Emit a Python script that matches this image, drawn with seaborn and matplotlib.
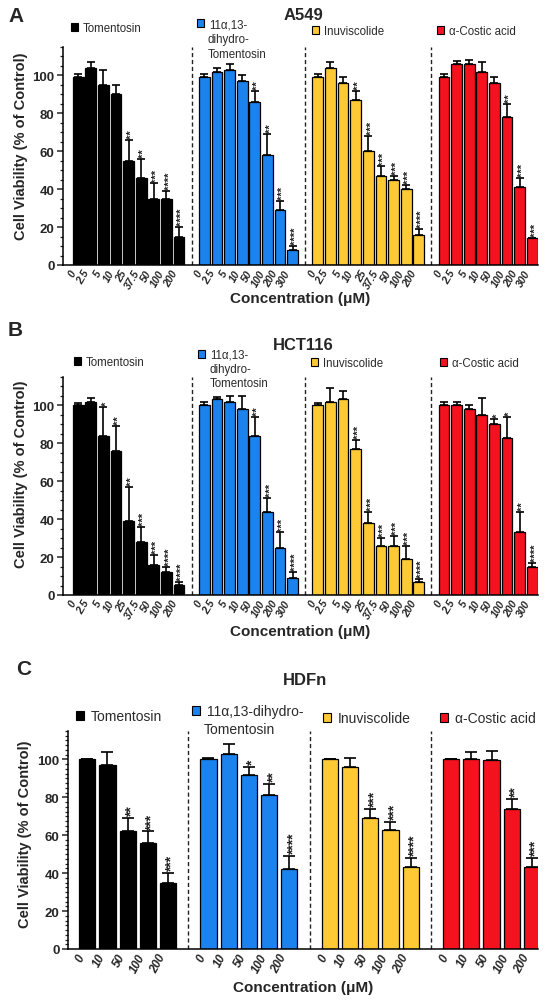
import numpy as np
import pandas as pd
import matplotlib
matplotlib.use("Agg")
import matplotlib.pyplot as plt
import seaborn as sns
from matplotlib.patches import Patch
from matplotlib.ticker import MultipleLocator
from matplotlib.transforms import offset_copy

# ---------------- data ----------------
COMPOUNDS = ["Tomentosin", "11α,13-dihydro-Tomentosin", "Inuviscolide", "α-Costic acid"]
COLORS = ["#000000", "#1b82ee", "#fdc935", "#f4121e"]

# Panel A : A549
A_tom_conc = ["0", "2.5", "5", "10", "25", "37.5", "50", "100", "200"]
A_tom_val = [99, 104, 95, 90, 55, 46, 35, 35, 15]
A_tom_err = [2, 3, 8, 5, 11, 10, 8, 4, 5]
A_tom_sig = ["", "", "", "", "**", "**", "***", "****", "****"]

A_dht_conc = ["0", "2.5", "5", "10", "50", "100", "200", "300"]
A_dht_val = [99, 102, 103, 97, 86, 58, 29, 8]
A_dht_err = [2, 2, 3, 3, 6, 11, 5, 2]
A_dht_sig = ["", "", "", "", "**", "**", "***", "****"]

A_inu_conc = ["0", "2.5", "5", "10", "25", "37.5", "50", "100", "200"]
A_inu_val = [99, 104, 96, 87, 60, 47, 45, 40, 16]
A_inu_err = [2, 3, 3, 5, 8, 5, 2, 2, 3]
A_inu_sig = ["", "", "", "**", "***", "***", "***", "***", "****"]

A_cos_conc = ["0", "2.5", "5", "10", "50", "100", "200", "300"]
A_cos_val = [99, 106, 106, 102, 96, 78, 41, 14]
A_cos_err = [1.5, 1.5, 2, 5, 3, 7, 5, 0.5]
A_cos_sig = ["", "", "", "", "", "**", "***", "***"]

# Panel B : HCT116
B_tom_conc = ["0", "2.5", "5", "10", "25", "37.5", "50", "100", "200"]
B_tom_val = [100, 102, 84, 76, 39, 28, 16, 12, 5.5]
B_tom_err = [1.5, 2, 15, 13, 18, 8, 5, 3, 1.5]
B_tom_sig = ["", "", "*", "**", "**", "***", "***", "****", "****"]

B_dht_conc = ["0", "2.5", "5", "10", "50", "100", "200", "300"]
B_dht_val = [100, 103.5, 102, 98, 84, 44, 25, 9]
B_dht_err = [2, 1, 3, 7, 10, 7, 8, 3]
B_dht_sig = ["", "", "", "", "**", "***", "***", "****"]

B_inu_conc = ["0", "2.5", "5", "10", "25", "37.5", "50", "100", "200"]
B_inu_val = [100, 102, 103.5, 77, 38, 26, 26, 19, 7]
B_inu_err = [1.5, 7, 4, 5, 6, 4, 5, 7, 1.5]
B_inu_sig = ["", "", "", "***", "***", "***", "***", "***", "****"]

B_cos_conc = ["0", "2.5", "5", "10", "50", "100", "200", "300"]
B_cos_val = [100, 100, 98, 95, 90, 83, 33, 15]
B_cos_err = [2, 2, 2, 9, 3, 11, 11, 2]
B_cos_sig = ["", "", "", "", "*", "*", "**", "****"]

# Panel C : HDFn
C_tom_conc = ["0", "10", "50", "100", "200"]
C_tom_val = [100, 97, 62, 56, 35]
C_tom_err = [0.4, 7, 7, 6, 5]
C_tom_sig = ["", "", "**", "***", "***"]

C_dht_conc = ["0", "10", "50", "100", "200"]
C_dht_val = [100, 103, 92, 81, 42]
C_dht_err = [0.5, 5, 4, 6, 7]
C_dht_sig = ["", "", "*", "**", "****"]

C_inu_conc = ["0", "10", "50", "100", "200"]
C_inu_val = [100, 96, 69, 63, 43]
C_inu_err = [0.4, 5, 5, 4, 5]
C_inu_sig = ["", "", "***", "***", "****"]

C_cos_conc = ["0", "10", "50", "100", "200"]
C_cos_val = [100, 100, 99.5, 74, 43]
C_cos_err = [0.4, 4, 5, 5, 5]
C_cos_sig = ["", "", "", "**", "***"]

# ---------------- style ----------------
sns.set_theme(style="white")
plt.rcParams["font.family"] = ["Liberation Sans", "DejaVu Sans"]
plt.rcParams["axes.linewidth"] = 1.1

fig = plt.figure(figsize=(5.5, 10.03), dpi=100)
W, H = 550.0, 1003.0


def fx(px):
    return px / W


def fy(py):
    return 1 - py / H


def draw_panel(rect, groups, xlim, bar_w, cap, tick_fs, star_fs, star_dx, minor, rot):
    ax = fig.add_axes(rect)
    rows = []
    boundaries = []
    ticks, labels = [], []
    errs, sigs = [], []
    start = 0
    for gi, (conc, val, err, sig) in enumerate(groups):
        for i, (c, v, e, s) in enumerate(zip(conc, val, err, sig)):
            rows.append({"pos": start + i, "value": v, "compound": COMPOUNDS[gi]})
            ticks.append(start + i)
            labels.append(c)
            errs.append(e)
            sigs.append(s)
        start += len(conc)
        if gi < len(groups) - 1:
            boundaries.append(start)
        start += 1
    df = pd.DataFrame(rows)
    sns.barplot(data=df, x="pos", y="value", hue="compound",
                palette=dict(zip(COMPOUNDS, COLORS)), native_scale=True,
                dodge=False, width=bar_w, edgecolor="black", linewidth=0.9,
                saturation=1, errorbar=None, legend=False, ax=ax, zorder=2)
    ax.errorbar(df["pos"], df["value"], yerr=[np.zeros(len(df)), errs],
                fmt="none", ecolor="black", elinewidth=1.2, capsize=cap,
                capthick=1.2, zorder=3)
    star_tr = offset_copy(ax.transData, fig=fig, x=star_dx, y=0, units="points")
    for p, v, e, s in zip(df["pos"], df["value"], errs, sigs):
        if s:
            ax.text(p, v + e + 1.0, s, rotation=90, ha="center", va="bottom",
                    fontsize=star_fs, fontweight="bold", color="#222222",
                    transform=star_tr)
    for b in boundaries:
        ax.axvline(b, color="#222222", lw=1.0, ls=(0, (3, 2)), zorder=1)
    ax.set_xlim(*xlim)
    ax.set_ylim(0, 115)
    ax.set_yticks([0, 20, 40, 60, 80, 100])
    ax.yaxis.set_minor_locator(MultipleLocator(minor))
    ax.tick_params(axis="y", which="major", direction="out", length=4, width=1.1,
                   labelsize=9.5, left=True, pad=2)
    ax.tick_params(axis="y", which="minor", direction="out", length=2.2, width=0.9, left=True)
    for t in ax.get_yticklabels():
        t.set_fontweight("bold")
    ax.set_xticks(ticks)
    ax.set_xticklabels(labels, rotation=rot, ha="right", va="top",
                       fontsize=tick_fs, fontweight="bold", fontstyle="italic",
                       rotation_mode="default")
    ax.tick_params(axis="x", length=0, pad=2)
    for sp in ["top", "right"]:
        ax.spines[sp].set_visible(False)
    ax.spines["left"].set_color("black")
    ax.spines["bottom"].set_color("black")
    ax.set_ylabel("Cell Viability (% of Control)", fontsize=10.5, fontweight="bold")
    ax.set_xlabel("Concentration (μM)", fontsize=11, fontweight="bold")
    return ax


def add_key(px, py, lines, color, fs, text_px, line_gap):
    fig.legend(handles=[Patch(facecolor=color, edgecolor="black", linewidth=0.8)],
               labels=[lines[0]], loc="center left", bbox_to_anchor=(fx(px), fy(py)),
               frameon=False, borderpad=0, borderaxespad=0, handlelength=0.6,
               handleheight=0.6, handletextpad=0.45, fontsize=fs,
               labelcolor="#2a2a2a")
    for k, extra in enumerate(lines[1:], start=1):
        fig.text(fx(text_px), fy(py + k * line_gap), extra, ha="left", va="center",
                 fontsize=fs, color="#2a2a2a")


# ---------------- Panel A ----------------
axA = draw_panel([fx(63), fy(266), fx(538) - fx(63), fy(48) - fy(266)],
                 [(A_tom_conc, A_tom_val, A_tom_err, A_tom_sig),
                  (A_dht_conc, A_dht_val, A_dht_err, A_dht_sig),
                  (A_inu_conc, A_inu_val, A_inu_err, A_inu_sig),
                  (A_cos_conc, A_cos_val, A_cos_err, A_cos_sig)],
                 (-1.2, 36.45), 0.85, 3.2, 7.5, 8, 2.2, 5, 60)
axA.yaxis.set_label_coords(-0.073, 0.55)
axA.xaxis.set_label_coords(0.5, -0.12)

# ---------------- Panel B ----------------
axB = draw_panel([fx(63), fy(596), fx(538) - fx(63), fy(378) - fy(596)],
                 [(B_tom_conc, B_tom_val, B_tom_err, B_tom_sig),
                  (B_dht_conc, B_dht_val, B_dht_err, B_dht_sig),
                  (B_inu_conc, B_inu_val, B_inu_err, B_inu_sig),
                  (B_cos_conc, B_cos_val, B_cos_err, B_cos_sig)],
                 (-1.2, 36.45), 0.85, 3.2, 7.5, 8, 2.2, 5, 60)
axB.yaxis.set_label_coords(-0.073, 0.56)
axB.xaxis.set_label_coords(0.5, -0.133)

# ---------------- Panel C ----------------
axC = draw_panel([fx(68), fy(950), fx(538) - fx(68), fy(732) - fy(950)],
                 [(C_tom_conc, C_tom_val, C_tom_err, C_tom_sig),
                  (C_dht_conc, C_dht_val, C_dht_err, C_dht_sig),
                  (C_inu_conc, C_inu_val, C_inu_err, C_inu_sig),
                  (C_cos_conc, C_cos_val, C_cos_err, C_cos_sig)],
                 (-0.95, 22.3), 0.8, 4, 8.5, 10, 2.8, 2.5, 62)
axC.yaxis.set_label_coords(-0.077, 0.53)
axC.xaxis.set_label_coords(0.5, -0.142)

# ---------------- legends ----------------
add_key(71, 29, ["Tomentosin"], COLORS[0], 8.3, 0, 0)
add_key(197, 25, ["11α,13-", "dihydro-", "Tomentosin"], COLORS[1], 8.3, 208, 15)
add_key(312, 32, ["Inuviscolide"], COLORS[2], 8.3, 0, 0)
add_key(437, 32, ["α-Costic acid"], COLORS[3], 8.3, 0, 0)

add_key(74, 363, ["Tomentosin"], COLORS[0], 8.3, 0, 0)
add_key(198, 356, ["11α,13-", "dihydro-", "Tomentosin"], COLORS[1], 8.3, 210, 14)
add_key(311, 364, ["Inuviscolide"], COLORS[2], 8.3, 0, 0)
add_key(440, 364, ["α-Costic acid"], COLORS[3], 8.3, 0, 0)

add_key(76, 717, ["Tomentosin"], COLORS[0], 10, 0, 0)
add_key(192, 712, ["11α,13-dihydro-", "Tomentosin"], COLORS[1], 10, 204, 18)
add_key(323, 719, ["Inuviscolide"], COLORS[2], 10, 0, 0)
add_key(440, 719, ["α-Costic acid"], COLORS[3], 10, 0, 0)

# ---------------- titles & panel letters ----------------
fig.text(fx(303), fy(15), "A549", ha="center", va="center", fontsize=12, fontweight="bold")
fig.text(fx(303), fy(345), "HCT116", ha="center", va="center", fontsize=12, fontweight="bold")
fig.text(fx(305), fy(681), "HDFn", ha="center", va="center", fontsize=12, fontweight="bold")
fig.text(fx(8), fy(17), "A", ha="left", va="center", fontsize=15, fontweight="bold")
fig.text(fx(8), fy(331), "B", ha="left", va="center", fontsize=15, fontweight="bold")
fig.text(fx(16), fy(670), "C", ha="left", va="center", fontsize=15, fontweight="bold")

fig.savefig("out.png", dpi=100, facecolor="white")
